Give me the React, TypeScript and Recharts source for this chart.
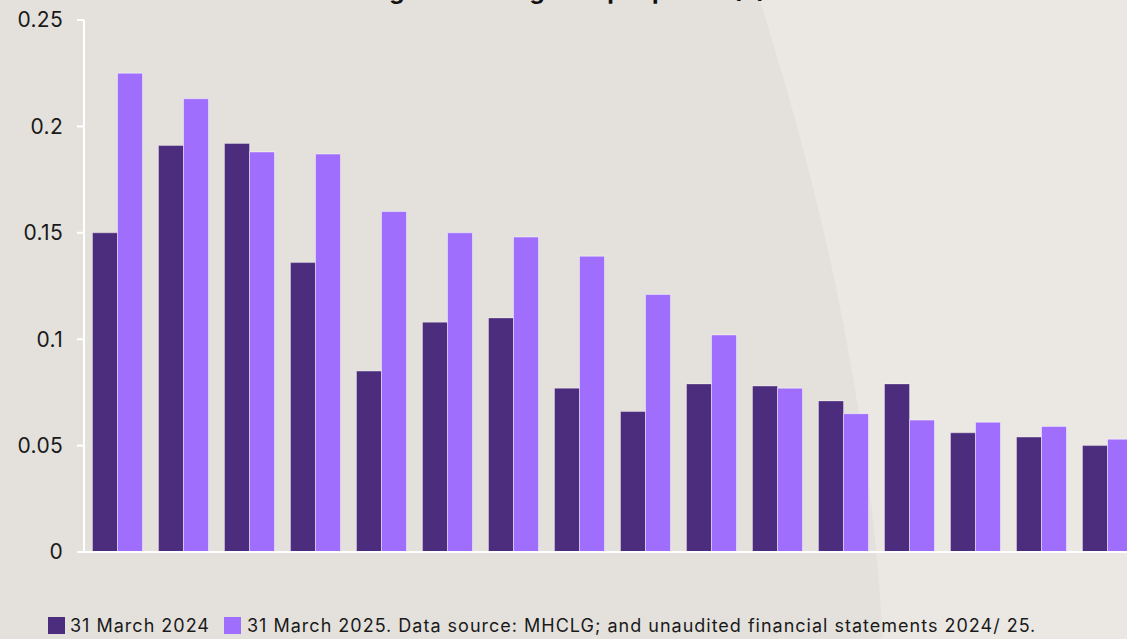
import React from "react";
import { BarChart, Bar, XAxis, YAxis } from "recharts";

const categories = ["A", "B", "C", "D", "E", "F", "G", "H", "I", "J", "K", "L", "M", "N", "O", "P"];
const march2024 = [0.150, 0.191, 0.192, 0.136, 0.085, 0.108, 0.110, 0.077, 0.066, 0.079, 0.078, 0.071, 0.079, 0.056, 0.054, 0.050];
const march2025 = [0.225, 0.213, 0.188, 0.187, 0.160, 0.150, 0.148, 0.139, 0.121, 0.102, 0.077, 0.065, 0.062, 0.061, 0.059, 0.053];
const yTicks = [0, 0.05, 0.1, 0.15, 0.2, 0.25];
const seriesNames = ["31 March 2024", "31 March 2025. Data source: MHCLG; and unaudited financial statements 2024/ 25."];
const titleText = "Average borrowing cost per pound (£)";

const data = categories.map((c, i) => ({ name: c, a: march2024[i], b: march2025[i] }));

const DARK = "#4C2C7D";
const LIGHT = "#A06EFD";
const FONT = "Inter, 'Noto Sans', sans-serif";

export default function App() {
  return (
    <div
      style={{
        position: "fixed",
        left: 0,
        top: 0,
        width: 1127,
        height: 639,
        overflow: "hidden",
        background: "#EBE8E4",
        fontFamily: FONT,
      }}
    >
      <svg width={1127} height={639} style={{ position: "absolute", left: 0, top: 0 }}>
        <path d="M 0 0 L 760 0 C 790 100, 865 330, 883 639 L 0 639 Z" fill="#E4E1DD" />
        <text
          x={766}
          y={-1}
          textAnchor="end"
          fontSize={24}
          fontWeight={700}
          fill="#111"
          fontFamily={FONT}
        >
          {titleText}
        </text>
      </svg>
      <div style={{ position: "absolute", left: 0, top: 0 }}>
        <BarChart
          width={1160}
          height={580}
          data={data}
          margin={{ top: 20, right: 20, bottom: 27, left: 0 }}
          barCategoryGap={8.5}
          barGap={0}
        >
          <XAxis
            dataKey="name"
            tick={false}
            tickLine={false}
            axisLine={{ stroke: "#FFFFFF", strokeWidth: 2 }}
            height={1}
          />
          <YAxis
            width={84}
            domain={[0, 0.25]}
            ticks={yTicks}
            interval={0}
            tickSize={7}
            tickMargin={14}
            axisLine={{ stroke: "#FFFFFF", strokeWidth: 2 }}
            tickLine={{ stroke: "#FFFFFF", strokeWidth: 2 }}
            tick={{ fill: "#1a1a1a", fontSize: 21, fontFamily: FONT, letterSpacing: 0.3 }}
          />
          <Bar dataKey="a" fill={DARK} stroke="rgba(255,255,255,0.35)" strokeWidth={1} isAnimationActive={false} />
          <Bar dataKey="b" fill={LIGHT} stroke="rgba(255,255,255,0.45)" strokeWidth={1} isAnimationActive={false} />
        </BarChart>
      </div>
      <div
        style={{
          position: "absolute",
          left: 48,
          top: 615,
          display: "flex",
          alignItems: "center",
          fontSize: 18,
          letterSpacing: 1,
          color: "#1a1a1a",
          fontFamily: FONT,
          whiteSpace: "nowrap",
        }}
      >
        <span style={{ display: "inline-block", width: 17, height: 17, background: DARK, marginRight: 5 }} />
        <span style={{ marginRight: 14 }}>{seriesNames[0]}</span>
        <span style={{ display: "inline-block", width: 17, height: 17, background: LIGHT, marginRight: 6 }} />
        <span>{seriesNames[1]}</span>
      </div>
    </div>
  );
}
